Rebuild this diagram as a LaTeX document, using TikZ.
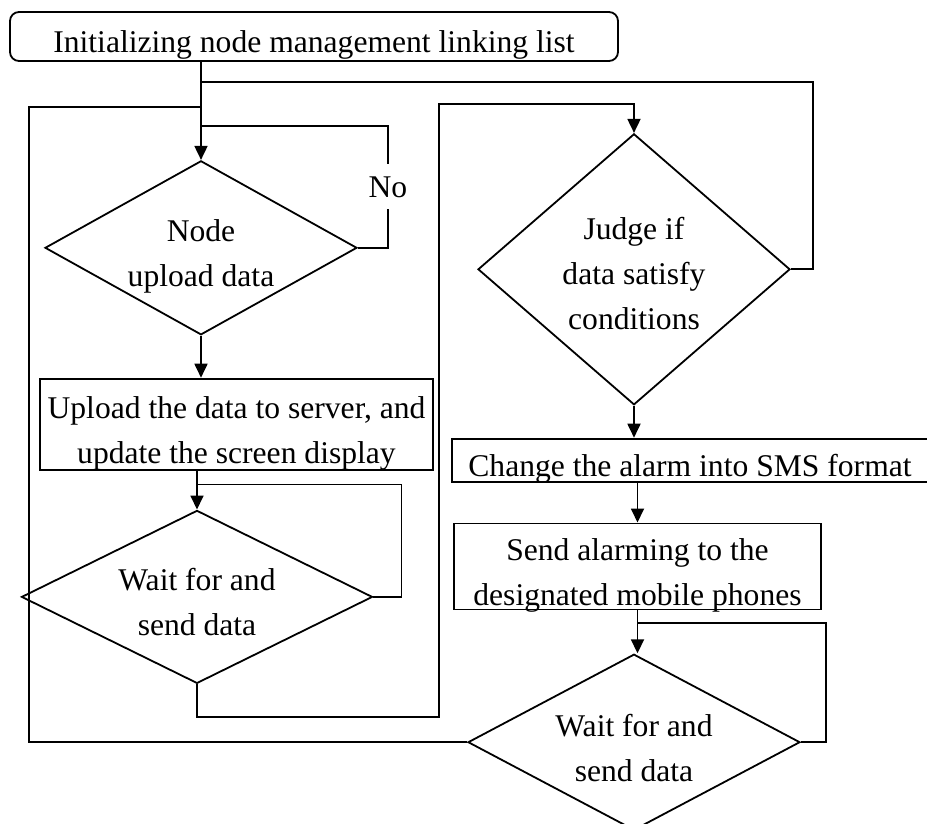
\documentclass[tikz,border=0pt]{standalone}
\usepackage{fontspec}
\setmainfont{Liberation Serif}
\usetikzlibrary{positioning, arrows.meta, shapes.geometric, calc}

\begin{document}
\begin{tikzpicture}[x=1pt, y=-1pt, line width=1.8pt,
        every node/.style={font=\fontsize{31.6}{45}\selectfont, inner sep=0pt, align=center},
        box/.style={draw, rectangle},
        decision/.style={draw, diamond, shape aspect=2},
        oneline/.style={text height=32pt, text depth=0pt},
        twoline/.style={text height=78pt, text depth=0pt},
        threeline/.style={text height=120pt, text depth=0pt},
        flow/.style={-{Triangle[length=14pt, width=13pt]}}]
        \useasboundingbox (0,0) rectangle (927,823);
        % Components
        \node[box, oneline, rounded corners=9pt, minimum width=608pt, minimum height=49pt] (init) at (314,36.5) {Initializing node management linking list};
        \node[decision, twoline, below=98pt of init, xshift=-113pt, minimum width=312pt, minimum height=174pt] (upcheck) {Node\\upload data};
        \node[box, twoline, below=42pt of upcheck, xshift=35.5pt, minimum width=393pt, minimum height=91pt] (upload) {Upload the data to server, and\\update the screen display};
        \node[decision, twoline, below=39pt of upload, xshift=-39.5pt, minimum width=351pt, minimum height=173pt] (waitA) {Wait for and\\send data};
        \node[decision, threeline, shape aspect=1.15, below=71pt of init, xshift=320pt, minimum width=312pt, minimum height=271pt] (judge) {Judge if\\data satisfy\\conditions};
        \node[box, oneline, below=32pt of judge, xshift=56pt, minimum width=476pt, minimum height=43pt] (sms) {Change the alarm into SMS format};
        \node[box, twoline, below=40pt of sms, xshift=-52.5pt, minimum width=367pt, minimum height=86pt] (send) {Send alarming to the\\designated mobile phones};
        \node[decision, twoline, below=43pt of send, xshift=-3.5pt, minimum width=332pt, minimum height=176pt] (waitB) {Wait for and\\send data};
        % Junctions
        \coordinate (tapA) at ($(init.south -| upcheck.north)+(0,20)$);
        \coordinate (tapB) at ($(tapA)+(0,25)$);
        \coordinate (tapC) at ($(tapA)+(0,44)$);
        \coordinate (leftB) at ($(tapB)+(-172,0)$);
        \coordinate (tapD) at ($(waitA.north)+(0,-25)$);
        \coordinate (tapE) at ($(judge.north)+(-195,-29)$);
        \coordinate (tapF) at ($(send.south)+(0,13)$);
        % Arrows
        \draw[flow] (init.south -| upcheck.north) -- (upcheck.north);
        \draw (upcheck.east) -- ++(30,0) coordinate (noturn) -- node[fill=white, inner xsep=2pt, inner ysep=12pt] {No} (noturn |- tapC) -- (tapC);
        \draw (judge.east) -- ++(22,0) |- (tapA);
        \draw (waitB.west) -| (leftB) -- (tapB);
        \draw[flow] (upcheck.south) -- (upcheck.south |- upload.north);
        \draw[flow] (upload.south -| waitA.north) -- (waitA.north);
        \draw (waitA.east) -- ++(28,0) |- (tapD);
        \draw[flow] (waitA.south) -- ++(0,33) -| (tapE) -| (judge.north);
        \draw[flow] (judge.south) -- (judge.south |- sms.north);
        \draw[flow] (sms.south -| send.north) -- (send.north);
        \draw[flow] (send.south) -- (send.south |- waitB.north);
        \draw (waitB.east) -- ++(25,0) |- (tapF);
    \end{tikzpicture}
\end{document}
